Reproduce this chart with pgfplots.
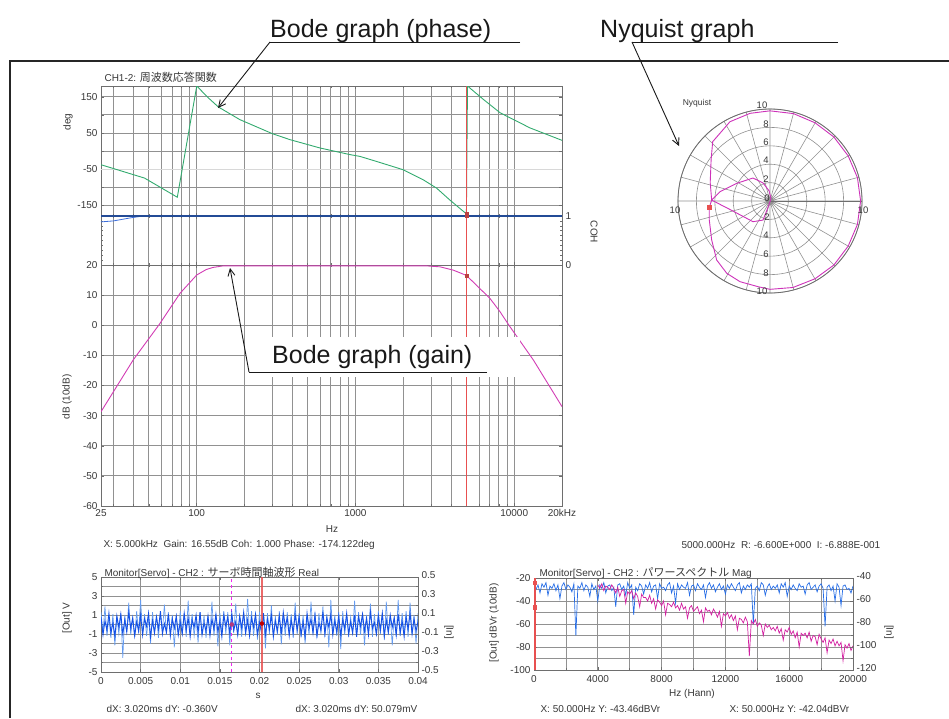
\documentclass[border=0pt]{standalone}
\usepackage{fontspec}
\setmainfont{Liberation Sans}
\newfontfamily\cjk[Scale=1.1]{Noto Sans CJK JP}
\usepackage{pgfplots}
\pgfplotsset{compat=1.18}
\usepackage{pgfplotstable}
\usepgfplotslibrary{polar}
\usetikzlibrary{arrows.meta}

\definecolor{phasegreen}{RGB}{50,170,110}
\definecolor{gainmag}{RGB}{210,60,180}
\definecolor{cohblue}{RGB}{35,75,150}
\definecolor{cohlight}{RGB}{60,110,220}
\definecolor{cursred}{RGB}{232,80,80}
\definecolor{gridgray}{RGB}{145,145,145}
\definecolor{framegray}{RGB}{110,110,110}
\definecolor{sigblue}{RGB}{20,80,230}
\definecolor{siglight}{RGB}{100,155,240}
\definecolor{specblue}{RGB}{40,110,230}
\definecolor{specmag}{RGB}{210,30,160}
\definecolor{nyqmag}{RGB}{205,50,185}
\definecolor{dashmag}{RGB}{240,40,240}
\definecolor{txt}{RGB}{55,55,55}
\definecolor{anntxt}{RGB}{25,25,25}

\newcommand\sm{\fontsize{10}{12}\selectfont}
\newcommand\tk{\fontsize{10}{12}\selectfont}
\newcommand\annfont{\fontsize{25}{30}\selectfont}

\pgfplotsset{
  /pgf/number format/assume math mode=true,
  panel/.style={
    scale only axis,
    axis line style={framegray, line width=0.8pt},
    tick style={framegray, line width=0.5pt},
    major tick length=3pt, minor tick length=2pt,
    grid style={gridgray, line width=0.8pt},
    tick label style={font=\tk, text=txt},
    scaled x ticks=false, scaled y ticks=false,
  },
}

% time signal, dark band (step 0.00025 s)
\pgfplotstableread[row sep=\\]{
v\\
0.8\\ -1.1\\ 0.4\\ -0.6\\ 1.2\\ -0.9\\ 0.2\\ -1.3\\ 0.9\\ -0.3\\
1.1\\ -1.0\\ 0.5\\ -0.8\\ 1.3\\ -0.4\\ 0.7\\ -1.2\\ 0.3\\ -0.7\\
1.0\\ -1.1\\ 0.6\\ -0.2\\ 1.2\\ -1.3\\ 0.4\\ -0.9\\ 0.8\\ -0.5\\
1.4\\ -1.0\\ 0.1\\ -0.8\\ 1.1\\ -1.2\\ 0.6\\ -0.4\\ 0.9\\ -1.1\\
0.3\\ -1.0\\ 1.2\\ -0.6\\ 0.7\\ -1.3\\ 0.5\\ -0.3\\ 1.0\\ -0.9\\
1.3\\ -1.1\\ 0.2\\ -0.7\\ 0.9\\ -1.2\\ 0.6\\ -0.5\\ 1.1\\ -0.8\\
0.4\\ -1.3\\ 1.0\\ -0.2\\ 0.8\\ -1.0\\ 1.2\\ -0.6\\ 0.3\\ -1.1\\
0.9\\ -0.4\\ 1.3\\ -0.9\\ 0.5\\ -1.2\\ 0.7\\ -0.3\\ 1.1\\ -1.0\\
0.2\\ -0.8\\ 1.2\\ -1.1\\ 0.6\\ -0.5\\ 1.0\\ -1.3\\ 0.4\\ -0.7\\
0.9\\ -1.0\\ 1.3\\ -0.2\\ 0.7\\ -1.2\\ 0.5\\ -0.9\\ 1.1\\ -0.6\\
0.8\\ -1.1\\ 0.3\\ -1.3\\ 1.2\\ -0.4\\ 0.6\\ -0.9\\ 1.0\\ -1.2\\
0.2\\ -0.6\\ 1.3\\ -1.0\\ 0.7\\ -0.3\\ 1.1\\ -1.1\\ 0.4\\ -0.8\\
0.9\\ -1.2\\ 0.5\\ -0.5\\ 1.2\\ -1.0\\ 0.3\\ -0.9\\ 1.0\\ -1.3\\
0.8\\ -0.2\\ 1.1\\ -0.7\\ 0.6\\ -1.1\\ 1.3\\ -0.4\\ 0.2\\ -1.0\\
0.9\\ -0.6\\ 1.2\\ -1.2\\ 0.5\\ -0.8\\ 1.0\\ -0.3\\ 0.7\\ -1.1\\
1.1\\ -0.9\\ 0.4\\ -1.3\\ 0.8\\ -0.5\\ 1.2\\ -1.0\\ 0.6\\ -0.7\\
0.3\\
}\noiseA

% time signal, light spikes
\pgfplotstableread[row sep=\\]{
v\\
1.3\\ -0.9\\ 1.9\\ -1.2\\ 0.8\\ -1.4\\ 1.1\\ -2.2\\ 0.9\\ -1.0\\
1.2\\ -3.5\\ 1.0\\ -0.8\\ 2.3\\ -1.1\\ 0.7\\ -1.3\\ 1.4\\ -0.9\\
2.6\\ -1.0\\ 1.1\\ -1.2\\ 0.8\\ -2.0\\ 1.3\\ -0.9\\ 1.0\\ -1.4\\
1.2\\ -0.7\\ 2.1\\ -1.1\\ 1.3\\ -0.9\\ 1.0\\ -2.4\\ 0.9\\ -1.2\\
1.4\\ -1.0\\ 1.2\\ -1.3\\ 2.5\\ -1.0\\ 1.1\\ -1.2\\ 0.6\\ -1.9\\
1.3\\ -1.1\\ 1.0\\ -1.4\\ 0.9\\ -1.0\\ 2.4\\ -1.2\\ 1.1\\ -2.3\\
1.2\\ -0.9\\ 1.4\\ -1.0\\ 1.3\\ -2.2\\ 1.1\\ -0.9\\ 2.2\\ -1.2\\
1.0\\ -1.3\\ 1.2\\ -1.1\\ 2.7\\ -1.0\\ 1.4\\ -1.2\\ 0.8\\ -1.6\\
1.3\\ -1.0\\ 1.1\\ -2.5\\ 1.2\\ -1.0\\ 2.0\\ -1.3\\ 0.9\\ -1.1\\
1.4\\ -2.1\\ 1.0\\ -1.2\\ 1.3\\ -0.9\\ 1.1\\ -1.4\\ 2.3\\ -1.0\\
1.2\\ -1.3\\ 1.0\\ -2.0\\ 0.9\\ -1.1\\ 2.4\\ -1.0\\ 1.3\\ -1.4\\
1.2\\ -1.0\\ 1.9\\ -1.3\\ 1.1\\ -2.4\\ 2.6\\ -1.0\\ 1.0\\ -1.2\\
1.3\\ -2.6\\ 1.4\\ -1.1\\ 1.0\\ -1.3\\ 0.8\\ -1.0\\ 2.5\\ -1.2\\
1.3\\ -1.1\\ 1.2\\ -2.2\\ 1.0\\ -0.9\\ 2.2\\ -1.3\\ 1.1\\ -1.2\\
1.4\\ -1.0\\ 1.2\\ -1.6\\ 2.4\\ -1.1\\ 1.0\\ -2.2\\ 0.9\\ -1.3\\
2.6\\ -1.2\\ 1.2\\ -1.0\\ 1.4\\ -1.3\\ 2.3\\ -1.1\\ 1.0\\ -2.0\\
1.2\\
}\noiseB

% power spectrum, blue (step 125 Hz)
\pgfplotstableread[row sep=\\]{
v\\
-22\\ -30\\ -26\\ -33\\ -25\\ -28\\ -24\\ -35\\ -27\\ -29\\ -25\\ -31\\ -26\\ -38\\ -27\\ -24\\ -30\\ -26\\ -28\\ -32\\
-25\\ -70\\ -27\\ -29\\ -24\\ -31\\ -26\\ -28\\ -36\\ -25\\ -30\\ -27\\ -40\\ -26\\ -29\\ -24\\ -33\\ -27\\ -26\\ -31\\
-28\\ -45\\ -26\\ -25\\ -30\\ -27\\ -35\\ -24\\ -29\\ -26\\ -52\\ -28\\ -31\\ -25\\ -27\\ -34\\ -26\\ -29\\ -24\\ -32\\
-27\\ -26\\ -38\\ -25\\ -29\\ -28\\ -31\\ -26\\ -24\\ -33\\ -27\\ -42\\ -25\\ -30\\ -26\\ -28\\ -29\\ -24\\ -35\\ -27\\
-26\\ -31\\ -25\\ -28\\ -30\\ -26\\ -37\\ -27\\ -24\\ -29\\ -26\\ -32\\ -28\\ -25\\ -30\\ -27\\ -34\\ -26\\ -29\\ -25\\
-28\\ -31\\ -26\\ -24\\ -33\\ -27\\ -30\\ -26\\ -28\\ -25\\ -60\\ -29\\ -27\\ -31\\ -24\\ -26\\ -35\\ -28\\ -25\\ -30\\
-27\\ -29\\ -26\\ -33\\ -25\\ -28\\ -24\\ -36\\ -27\\ -30\\ -26\\ -29\\ -31\\ -25\\ -28\\ -27\\ -34\\ -26\\ -24\\ -30\\
-28\\ -26\\ -32\\ -27\\ -25\\ -29\\ -62\\ -28\\ -26\\ -31\\ -27\\ -40\\ -25\\ -28\\ -44\\ -27\\ -26\\ -30\\ -29\\ -33\\
-27\\
}\specA

% power spectrum, magenta (from 4000 Hz, step 125 Hz)
\pgfplotstableread[row sep=\\]{
v\\
-26\\ -29\\ -25\\ -31\\ -27\\ -28\\ -30\\ -26\\
-29\\ -33\\ -28\\ -36\\ -31\\ -30\\ -42\\ -32\\ -34\\ -31\\ -38\\ -33\\ -36\\ -45\\ -34\\ -37\\
-37\\ -40\\ -35\\ -42\\ -38\\ -47\\ -39\\ -41\\ -44\\ -40\\ -52\\ -42\\ -43\\ -45\\ -41\\ -46\\
-44\\ -48\\ -42\\ -47\\ -45\\ -55\\ -46\\ -44\\ -49\\ -47\\ -45\\ -51\\ -48\\ -58\\ -46\\ -49\\
-48\\ -52\\ -47\\ -50\\ -54\\ -49\\ -62\\ -51\\ -53\\ -50\\ -55\\ -52\\ -57\\ -53\\ -65\\ -55\\
-56\\ -59\\ -54\\ -58\\ -88\\ -57\\ -60\\ -56\\ -62\\ -59\\ -61\\ -70\\ -60\\ -63\\ -61\\ -65\\
-63\\ -66\\ -62\\ -68\\ -64\\ -74\\ -65\\ -67\\ -63\\ -69\\ -66\\ -72\\ -67\\ -80\\ -68\\ -70\\
-68\\ -72\\ -67\\ -75\\ -70\\ -71\\ -78\\ -69\\ -73\\ -76\\ -72\\ -85\\ -74\\ -77\\ -73\\ -79\\
-75\\ -79\\ -76\\ -92\\ -78\\ -81\\ -77\\ -83\\ -79\\
}\specB

\begin{document}
\begin{tikzpicture}

% ---------- Bode: phase ----------
\begin{axis}[panel, xmode=log, xmin=25, xmax=20000, width=461pt, height=130pt,
  at={(101pt,-216pt)}, anchor=south west,
  xtick={100,1000,10000}, xticklabels={},
  minor xtick={30,40,50,60,70,80,90,200,300,400,500,600,700,800,900,2000,3000,4000,5000,6000,7000,8000,9000},
  xmajorgrids, xminorgrids,
  ymin=-180, ymax=180,
  ytick={-150,-100,-50,0,50,100,150}, yticklabels={-150,,-50,,50,,150},
  ymajorgrids]
\draw[gridgray!35, line width=0.8pt] (axis cs:25,-50) -- (axis cs:20000,-50);
\addplot[phasegreen, line width=0.9pt] coordinates {
  (25,-38) (47,-75) (75.6,-128) (100.2,180) (118,148) (137,122) (187,87)
  (300,48) (387,31.5) (598,8.4) (925,-10) (1069,-15) (1361,-29) (2003,-52)
  (2680,-80) (3250,-103) (3940,-136) (5000,-174.1) (5080,180) (6390,143)
  (8140,106) (12570,64) (20000,29.5)};
\addplot[cursred, line width=1pt] coordinates {(5000,-180) (5000,180)};
\addplot[only marks, mark=square*, mark size=1.6pt, cursred!80!black] coordinates {(5000,-174.1)};
\end{axis}

% ---------- Bode: coherence ----------
\begin{axis}[panel, xmode=log, xmin=25, xmax=20000, width=461pt, height=49pt,
  at={(101pt,-265pt)}, anchor=south west, clip=false,
  xtick={100,1000,10000}, xticklabels={},
  minor xtick={30,40,50,60,70,80,90,200,300,400,500,600,700,800,900,2000,3000,4000,5000,6000,7000,8000,9000},
  xmajorgrids, xminorgrids,
  ymin=0, ymax=1, ytick={0,1}, yticklabels={0,1}, yticklabel pos=right,
  minor ytick={0.1,0.2,0.3,0.4,0.5,0.6,0.7,0.8,0.9}]
\addplot[cohlight, line width=0.8pt] coordinates {(25,0.88) (30,0.9) (38,0.96) (46,1)};
\addplot[cohblue, line width=1.6pt] coordinates {(25,1) (20000,1)};
\addplot[cursred, line width=1pt] coordinates {(5000,0) (5000,1)};
\addplot[only marks, mark=square*, mark size=1.6pt, cursred!80!black] coordinates {(5000,1)};
\end{axis}

% ---------- Bode: gain ----------
\begin{axis}[panel, xmode=log, xmin=25, xmax=20000, width=461pt, height=241pt,
  at={(101pt,-506pt)}, anchor=south west,
  xtick={25,100,1000,10000,20000}, xticklabels={25,100,1000,10000,20kHz},
  minor xtick={30,40,50,60,70,80,90,200,300,400,500,600,700,800,900,2000,3000,4000,5000,6000,7000,8000,9000},
  xmajorgrids, xminorgrids,
  ymin=-60, ymax=20, ytick={-60,-50,-40,-30,-20,-10,0,10,20},
  yticklabels={-60,-50,-40,-30,-20,-10,0,10,20}, ymajorgrids]
\addplot[gainmag, line width=0.9pt] coordinates {
  (25,-28.7) (39.9,-11.5) (58.8,0.6) (78.6,10.6) (100.2,16.7) (115,18.5)
  (126.8,19.2) (146.6,19.7) (2810,19.7) (3410,19.4) (4135,18.3) (5000,16.55)
  (7040,8.9) (8140,4.5) (9410,-0.5) (13190,-11.5) (20000,-27)};
\addplot[cursred, line width=1pt] coordinates {(5000,-60) (5000,20)};
\addplot[only marks, mark=square*, mark size=1.6pt, cursred!80!black] coordinates {(5000,16.55)};
\end{axis}

\node[anchor=west, font=\sm, text=txt] at (101pt,-77pt) {CH1-2: {\cjk 周波数応答関数}};
\node[rotate=90, font=\sm, text=txt] at (68pt,-122pt) {deg};
\node[rotate=90, font=\sm, text=txt] at (67pt,-397pt) {dB (10dB)};
\node[rotate=-90, font=\sm, text=txt] at (594pt,-232pt) {COH};
\node[font=\sm, text=txt] at (332pt,-529pt) {Hz};
\node[anchor=west, font=\sm, text=txt] at (100pt,-545pt) {X: 5.000kHz\ \ Gain: 16.55dB Coh: 1.000 Phase: -174.122deg};
\node[anchor=west, font=\sm, text=txt] at (678pt,-545pt) {5000.000Hz\ \ R: -6.600E+000\ \ I: -6.888E-001};

% ---------- Nyquist ----------
\begin{polaraxis}[at={(770pt,-201pt)}, anchor=center, scale only axis,
  width=184pt, height=184pt,
  ymin=0, ymax=10, ytick={2,4,6,8,10}, xtick={0,15,...,345},
  xticklabels={}, yticklabels={},
  xmajorgrids, ymajorgrids,
  axis line style={framegray, line width=0.8pt},
  major grid style={gridgray, line width=0.6pt},
  major tick length=0pt, clip=false]
\addplot[nyqmag, line width=0.9pt, data cs=cart] coordinates {
  (0.02,-0.02) (-0.3,-0.9) (-0.76,-2.07) (-1.85,-2.25) (-2.6,-1.85) (-4.3,-0.95)
  (-6.34,0.1) (-6.5,2.0) (-6.4,4.5) (-6.23,6.45) (-4.35,8.62) (-2.17,9.53)
  (0,9.8) (2.55,9.5) (4.9,8.5) (6.95,6.95) (8.5,4.9) (9.5,2.55) (9.85,0)
  (9.5,-2.55) (8.5,-4.9) (6.95,-6.95) (4.9,-8.45) (2.5,-9.4) (0,-9.6)
  (-1.27,-9.32) (-3.26,-8.77) (-4.7,-7.86) (-5.8,-6.41) (-6.34,-4.24)
  (-6.6,-2.07) (-6.6,-0.69) (-6.34,0.1) (-5.43,1.01) (-3.62,1.92) (-1.85,2.5)
  (-0.76,1.96) (-0.1,1.1) (0.1,0.3) (0.02,0)};
\addplot[only marks, mark=square*, mark size=1.8pt, cursred, data cs=cart] coordinates {(-6.6,-0.689)};
\end{polaraxis}

\node[font=\fontsize{8.5}{10}\selectfont, text=txt] at (697pt,-103pt) {Nyquist};
\begin{scope}[every node/.style={font=\fontsize{9.5}{11}\selectfont, text=txt, inner sep=0pt}]
\node at (762pt,-105pt) {10};
\node at (766pt,-124pt) {8};
\node at (766pt,-142pt) {6};
\node at (766pt,-160pt) {4};
\node at (766pt,-179pt) {2};
\node at (767pt,-198pt) {0};
\node at (767pt,-217pt) {2};
\node at (766pt,-235pt) {4};
\node at (766pt,-254pt) {6};
\node at (766pt,-273pt) {8};
\node at (762pt,-291pt) {10};
\node at (675pt,-210pt) {10};
\node at (863pt,-210pt) {10};
\end{scope}

% ---------- time waveform ----------
\begin{axis}[panel, at={(101pt,-672pt)}, anchor=south west, width=317pt, height=95pt,
  xmin=0, xmax=0.04, ymin=-5, ymax=5,
  xtick={0,0.005,0.01,0.015,0.02,0.025,0.03,0.035,0.04},
  xticklabels={0,0.005,0.01,0.015,0.02,0.025,0.03,0.035,0.04},
  xticklabel style={yshift=-1.5pt},
  ytick={-5,-3,-1,1,3,5}, yticklabels={-5,-3,-1,1,3,5},
  minor ytick={-4,-2,0,2,4},
  xmajorgrids, ymajorgrids, yminorgrids]
\addplot[dashmag, dashed, line width=0.9pt] coordinates {(0.0165,-5) (0.0165,5)};
\addplot[siglight, line width=0.7pt] table[x expr=\coordindex*0.00025, y=v] {\noiseB};
\addplot[sigblue, line width=0.9pt] table[x expr=\coordindex*0.00025, y=v] {\noiseA};
\addplot[cursred, line width=2.4pt, opacity=0.85] coordinates {(0.0203,-5) (0.0203,5)};
\addplot[only marks, mark=*, mark size=2pt, magenta!70!black] coordinates {(0.0165,0)};
\addplot[only marks, mark=*, mark size=2pt, red!75!black] coordinates {(0.0203,0.1)};
\end{axis}
\begin{axis}[panel, at={(101pt,-672pt)}, anchor=south west, width=317pt, height=95pt,
  xmin=0, xmax=0.04, ymin=-0.5, ymax=0.5,
  axis x line=none, axis y line*=right,
  yticklabel style={yshift=1.5pt},
  ytick={-0.5,-0.3,-0.1,0.1,0.3,0.5}, yticklabels={-0.5,-0.3,-0.1,0.1,0.3,0.5}]
\end{axis}
\node[anchor=west, font=\sm, text=txt] at (101pt,-573pt) {Monitor[Servo] - CH2 : {\cjk サーボ時間軸波形} Real};
\node[rotate=90, font=\sm, text=txt] at (67pt,-618pt) {[Out] V};
\node[rotate=-90, font=\sm, text=txt] at (449pt,-632pt) {[In]};
\node[font=\sm, text=txt] at (258pt,-696pt) {s};
\node[anchor=west, font=\sm, text=txt] at (103pt,-709pt) {dX: 3.020ms dY: -0.360V};
\node[anchor=west, font=\sm, text=txt] at (292pt,-709pt) {dX: 3.020ms dY: 50.079mV};

% ---------- power spectrum ----------
\begin{axis}[panel, at={(534pt,-670pt)}, anchor=south west, width=319pt, height=92pt,
  xmin=0, xmax=20000, ymin=-100, ymax=-20,
  xtick={0,4000,8000,12000,16000,20000}, xticklabels={0,4000,8000,12000,16000,20000},
  xticklabel style={yshift=-1.5pt},
  minor xtick={2000,6000,10000,14000,18000},
  ytick={-100,-80,-60,-40,-20}, yticklabels={-100,-80,-60,-40,-20},
  minor ytick={-90,-70,-50,-30},
  xmajorgrids, xminorgrids, ymajorgrids, yminorgrids]
\addplot[specblue, line width=0.7pt] table[x expr=\coordindex*125, y=v] {\specA};
\addplot[specmag, line width=0.7pt] table[x expr=(\coordindex+32)*125, y=v] {\specB};
\addplot[cursred, line width=1.6pt] coordinates {(50,-20) (50,-100)};
\addplot[only marks, mark=square*, mark size=1.8pt, cursred] coordinates {(50,-24) (50,-45.5)};
\end{axis}
\begin{axis}[panel, at={(534pt,-670pt)}, anchor=south west, width=319pt, height=92pt,
  xmin=0, xmax=20000, ymin=-120, ymax=-40,
  axis x line=none, axis y line*=right,
  yticklabel style={yshift=1.5pt},
  ytick={-120,-100,-80,-60,-40}, yticklabels={-120,-100,-80,-60,-40}]
\end{axis}
\node[anchor=west, font=\sm, text=txt] at (536pt,-573pt) {Monitor[Servo] - CH2 : {\cjk パワースペクトル} Mag};
\node[rotate=90, font=\sm, text=txt] at (494pt,-623pt) {[Out] dBVr (10dB)};
\node[rotate=-90, font=\sm, text=txt] at (889pt,-632pt) {[In]};
\node[font=\sm, text=txt] at (692pt,-694pt) {Hz (Hann)};
\node[anchor=west, font=\sm, text=txt] at (537pt,-709pt) {X: 50.000Hz Y: -43.46dBVr};
\node[anchor=west, font=\sm, text=txt] at (726pt,-709pt) {X: 50.000Hz Y: -42.04dBVr};

% ---------- annotations ----------
\draw[black!85, line width=1.6pt] (10pt,-718pt) -- (10pt,-61pt) -- (949pt,-61pt);

\node[anchor=base west, font=\annfont, text=anntxt, inner sep=0pt] at (270pt,-37pt) {Bode graph (phase)};
\draw[anntxt, line width=0.9pt] (520pt,-42pt) -- (270pt,-42pt);
\draw[anntxt, line width=0.9pt, -{Straight Barb[length=7pt,width=7pt]}] (270pt,-42pt) -- (218pt,-108pt);

\node[anchor=base west, font=\annfont, text=anntxt, inner sep=0pt] at (600pt,-37pt) {Nyquist graph};
\draw[anntxt, line width=0.9pt] (838pt,-42pt) -- (632pt,-42pt);
\draw[anntxt, line width=0.9pt, -{Straight Barb[length=7pt,width=7pt]}] (632pt,-42pt) -- (679pt,-146pt);

\fill[white] (246pt,-337pt) rectangle (520pt,-377pt);
\node[anchor=base west, font=\annfont, text=anntxt, inner sep=0pt] at (272pt,-363pt) {Bode graph (gain)};
\draw[anntxt, line width=0.9pt] (487pt,-372pt) -- (249pt,-372pt);
\draw[anntxt, line width=0.9pt, -{Straight Barb[length=7pt,width=7pt]}] (249pt,-372pt) -- (230pt,-268pt);

\pgfresetboundingbox
\path[use as bounding box] (0pt,0pt) rectangle (949pt,-718pt);
\end{tikzpicture}
\end{document}
